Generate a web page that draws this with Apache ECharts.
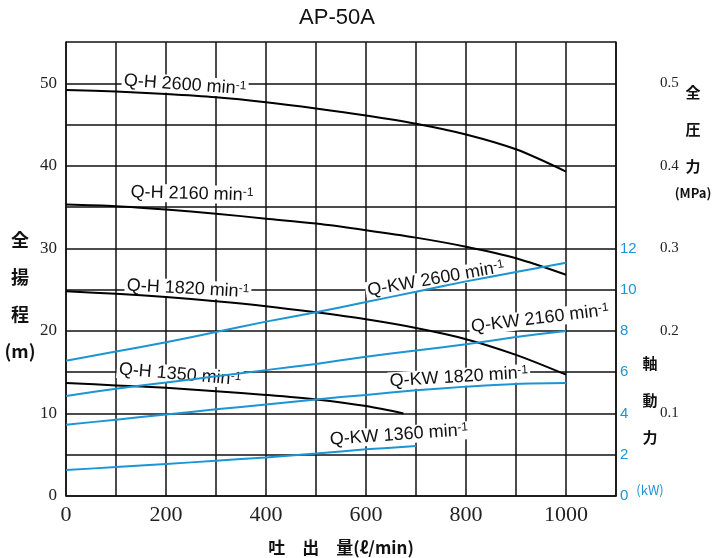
<!DOCTYPE html>
<html>
<head>
<meta charset="utf-8">
<script src="https://cdn.jsdelivr.net/npm/echarts@6/dist/echarts.min.js"></script>
<style>
  html, body { margin: 0; padding: 0; background: #fff; }
  #chart { width: 713px; height: 558px; }
</style>
</head>
<body>
<div id="chart"></div>
<script>
// flow (l/min)
const flow = [0, 100, 200, 300, 400, 500, 600, 700, 800, 900, 1000];
const flow1350 = [0, 100, 200, 300, 400, 500, 600, 675];
const flow1360 = [0, 100, 200, 300, 400, 500, 600, 700];

// total head (m)
const qh2600 = [49.2, 49.0, 48.7, 48.3, 47.7, 46.95, 46.1, 45.1, 43.8, 42.0, 39.3];
const qh2160 = [35.3, 35.1, 34.7, 34.2, 33.6, 33.0, 32.2, 31.3, 30.2, 28.8, 26.8];
const qh1820 = [24.8, 24.5, 24.1, 23.6, 23.0, 22.25, 21.4, 20.35, 19.0, 17.1, 14.7];
const qh1350 = [13.7, 13.4, 13.1, 12.7, 12.25, 11.7, 10.9, 10.0];

// shaft power (kW)
const kw2600 = [6.55, 7.0, 7.45, 7.95, 8.45, 8.9, 9.4, 9.9, 10.4, 10.85, 11.3];
const kw2160 = [4.85, 5.2, 5.5, 5.8, 6.1, 6.4, 6.75, 7.05, 7.35, 7.7, 8.0];
const kw1820 = [3.45, 3.7, 3.95, 4.2, 4.43, 4.68, 4.9, 5.12, 5.3, 5.43, 5.47];
const kw1360 = [1.26, 1.4, 1.55, 1.71, 1.87, 2.06, 2.26, 2.42];

const BLUE = '#1b95d3';
const GRID = '#111';
const SERIF = '"Liberation Serif", "DejaVu Serif", serif';
const SANS = '"Liberation Sans", Arial, sans-serif';
const CJK = '"Noto Sans CJK JP", sans-serif';

const zip = (xs, ys) => xs.map((x, i) => [x, ys[i]]);

function line(name, xs, ys, axis, color) {
    return {
        name, type: 'line', yAxisIndex: axis,
        data: zip(xs, ys),
        smooth: 0.3, showSymbol: false, symbol: 'none',
        lineStyle: { color, width: 2 },
        z: 5, silent: true,
    };
}

// curve captions, anchored in flow / head coordinates
const captions = [
    { text: 'Q-H 2600 min', at: [238, 49.8], rot: -4 },
    { text: 'Q-H 2160 min', at: [252, 36.6], rot: -1.5 },
    { text: 'Q-H 1820 min', at: [244, 25.1], rot: -3 },
    { text: 'Q-H 1350 min', at: [228, 14.7], rot: -5 },
    { text: 'Q-KW 2600 min', at: [740, 26.3], rot: 10 },
    { text: 'Q-KW 2160 min', at: [948, 21.5], rot: 7 },
    { text: 'Q-KW 1820 min', at: [786, 14.4], rot: 3.5 },
    { text: 'Q-KW 1360 min', at: [666, 7.4], rot: 4 },
];

const chart = echarts.init(document.getElementById('chart'));

chart.setOption({
    animation: false,
    grid: { left: 66, right: 97, top: 42, bottom: 62, outerBoundsMode: 'none' },
    xAxis: {
        type: 'value', min: 0, max: 1100, interval: 100,
        axisLine: { lineStyle: { color: GRID, width: 1.5 } },
        axisTick: { show: false },
        splitLine: { lineStyle: { color: GRID, width: 1.5 } },
        axisLabel: {
            margin: 8, color: '#222', fontFamily: SERIF, fontSize: 22,
            formatter: v => (v % 200 === 0 && v <= 1000) ? String(v) : '',
        },
        name: '吐　出　量(ℓ/min)', nameLocation: 'middle', nameGap: 43,
        nameTextStyle: { fontFamily: CJK, fontSize: 17, fontWeight: 'bold', color: '#111' },
    },
    yAxis: [
        {
            type: 'value', min: 0, max: 55, interval: 5,
            axisLine: { show: true, lineStyle: { color: GRID, width: 1.5 } },
            axisTick: { show: false },
            splitLine: { lineStyle: { color: GRID, width: 1.5 } },
            axisLabel: {
                margin: 9, color: '#222', fontFamily: SERIF, fontSize: 17,
                formatter: v => (v % 10 === 0) ? String(v) : '',
            },
        },
        {
            type: 'value', position: 'right', min: 0, max: 22, interval: 2,
            axisLine: { show: true, lineStyle: { color: GRID, width: 1.5 } },
            axisTick: { show: false },
            splitLine: { show: false },
            axisLabel: {
                margin: 4, color: BLUE, fontFamily: SANS, fontSize: 15,
                formatter: v => (v <= 12) ? String(v) : '',
            },
        },
        {
            type: 'value', position: 'right', min: 0, max: 0.55, interval: 0.1,
            axisLine: { show: false },
            axisTick: { show: false },
            splitLine: { show: false },
            axisLabel: {
                margin: 44, color: '#222', fontFamily: SERIF, fontSize: 15,
                formatter: v => (v > 0.05 && v < 0.52) ? v.toFixed(1) : '',
            },
        },
    ],
    series: [
        line('Q-H 2600', flow, qh2600, 0, '#000'),
        line('Q-H 2160', flow, qh2160, 0, '#000'),
        line('Q-H 1820', flow, qh1820, 0, '#000'),
        line('Q-H 1350', flow1350, qh1350, 0, '#000'),
        line('Q-KW 2600', flow, kw2600, 1, BLUE),
        line('Q-KW 2160', flow, kw2160, 1, BLUE),
        line('Q-KW 1820', flow, kw1820, 1, BLUE),
        line('Q-KW 1360', flow1360, kw1360, 1, BLUE),
    ],
});

const cjkTitle = (text, x, y, lh, size, color, weight) => ({
    type: 'text', x, y, z: 3,
    style: {
        text, fontFamily: CJK, fontSize: size, fontWeight: weight || 'bold', fill: color || '#111',
        align: 'center', verticalAlign: 'middle', lineHeight: lh,
    },
});

const graphics = captions.map(c => {
    const p = chart.convertToPixel({ xAxisIndex: 0, yAxisIndex: 0 }, c.at);
    return {
        type: 'text', x: p[0], y: p[1], rotation: c.rot * Math.PI / 180, z: 3,
        style: {
            text: c.text + '{s|-1}',
            fontFamily: SANS, fontSize: 18, fill: '#111',
            align: 'center', verticalAlign: 'middle',
            backgroundColor: '#fff', padding: [0, 2],
            rich: { s: { fontFamily: SANS, fontSize: 12, fill: '#111', lineHeight: 12, verticalAlign: 'top' } },
        },
    };
});

graphics.push(
    {
        type: 'text', x: 337, y: 18, z: 3,
        style: { text: 'AP-50A', fontFamily: SANS, fontSize: 22, fill: '#111', align: 'center', verticalAlign: 'middle' },
    },
    cjkTitle('全\n揚\n程\n(m)', 20, 296, 37, 18),
    cjkTitle('全\n圧\n力', 693, 129, 37, 15),
    cjkTitle('(MPa)', 693, 193, 16, 13),
    cjkTitle('軸\n動\n力', 650, 400, 37, 15),
    cjkTitle('(kW)', 650, 490, 14, 13, BLUE, 'normal'),
);

chart.setOption({ graphic: graphics });
</script>
</body>
</html>
